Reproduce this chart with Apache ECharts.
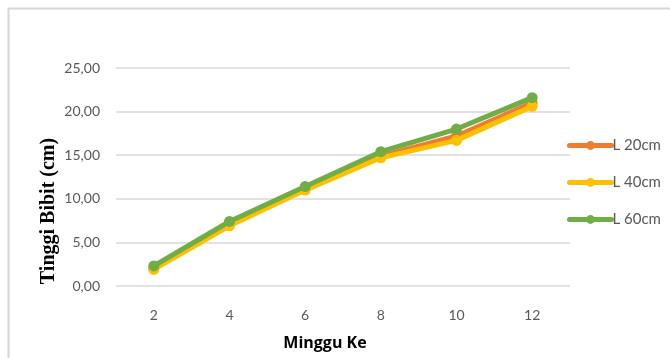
<!DOCTYPE html>
<html>
<head>
<meta charset="utf-8">
<script src="https://cdn.jsdelivr.net/npm/echarts@6/dist/echarts.min.js"></script>
<style>
  html, body { margin: 0; padding: 0; background: #fff; }
  #chart { width: 670px; height: 358px; }
</style>
</head>
<body>
<div id="chart"></div>
<script>
// Week numbers on the x axis
const weeks = ['2', '4', '6', '8', '10', '12'];
// Seedling height (cm) per planting distance
const l20 = [2.0, 7.1, 11.2, 14.9, 17.2, 21.0];
const l40 = [1.9, 6.9, 11.0, 14.7, 16.7, 20.6];
const l60 = [2.3, 7.4, 11.4, 15.4, 18.0, 21.6];
const seriesNames = ['L 20cm', 'L 40cm', 'L 60cm'];
const seriesColors = ['#ED7D31', '#FFC000', '#70AD47'];

const chart = echarts.init(document.getElementById('chart'));

function lineSeries(name, data, color, z) {
  return {
    name: name,
    type: 'line',
    data: data,
    z: z,
    symbol: 'circle',
    symbolSize: 11,
    lineStyle: { width: 5, color: color },
    itemStyle: { color: color },
    emphasis: { disabled: true },
    animation: false
  };
}

chart.setOption({
  animation: false,
  graphic: [
    {
      type: 'rect',
      shape: { x: 8.5, y: 8.5, width: 700, height: 400 },
      style: { fill: 'none', stroke: '#d6d6d6', lineWidth: 2 },
      silent: true
    },
    {
      // vertical axis title
      type: 'text',
      x: 49, y: 211,
      rotation: Math.PI / 2,
      style: {
        text: 'Tinggi Bibit (cm)',
        fontFamily: 'Liberation Serif', fontWeight: 'bold', fontSize: 20,
        fill: '#000', align: 'center', verticalAlign: 'middle'
      },
      silent: true
    },
    {
      // horizontal axis title
      type: 'text',
      x: 325, y: 343,
      style: {
        text: 'Minggu Ke',
        fontFamily: 'Open Sans', fontWeight: 'bold', fontSize: 16,
        fill: '#000', align: 'center', verticalAlign: 'middle'
      },
      silent: true
    }
  ],
  grid: { left: 116, right: 100, top: 68, bottom: 72 },
  legend: {
    orient: 'vertical',
    left: 562,
    top: 133,
    itemWidth: 42,
    itemHeight: 11,
    itemGap: 22,
    lineStyle: { width: 5, cap: 'round' },
    textStyle: { fontFamily: 'Lato', fontSize: 15, color: '#595959', padding: [0, 0, 0, -4] },
    data: seriesNames
  },
  xAxis: {
    type: 'category',
    data: weeks,
    boundaryGap: true,
    axisLine: { show: false },
    axisTick: { show: false },
    axisLabel: { fontFamily: 'Lato', fontSize: 14, color: '#595959', margin: 22 }
  },
  yAxis: {
    type: 'value',
    min: 0,
    max: 25,
    interval: 5,
    axisLine: { show: false },
    axisTick: { show: false },
    splitLine: { lineStyle: { color: '#d9d9d9', width: 1.5 } },
    axisLabel: {
      fontFamily: 'Lato', fontSize: 14, color: '#595959', margin: 16,
      formatter: v => v.toFixed(2).replace('.', ',')
    }
  },
  series: [
    lineSeries(seriesNames[0], l20, seriesColors[0], 2),
    lineSeries(seriesNames[1], l40, seriesColors[1], 3),
    lineSeries(seriesNames[2], l60, seriesColors[2], 4)
  ]
});
</script>
</body>
</html>
